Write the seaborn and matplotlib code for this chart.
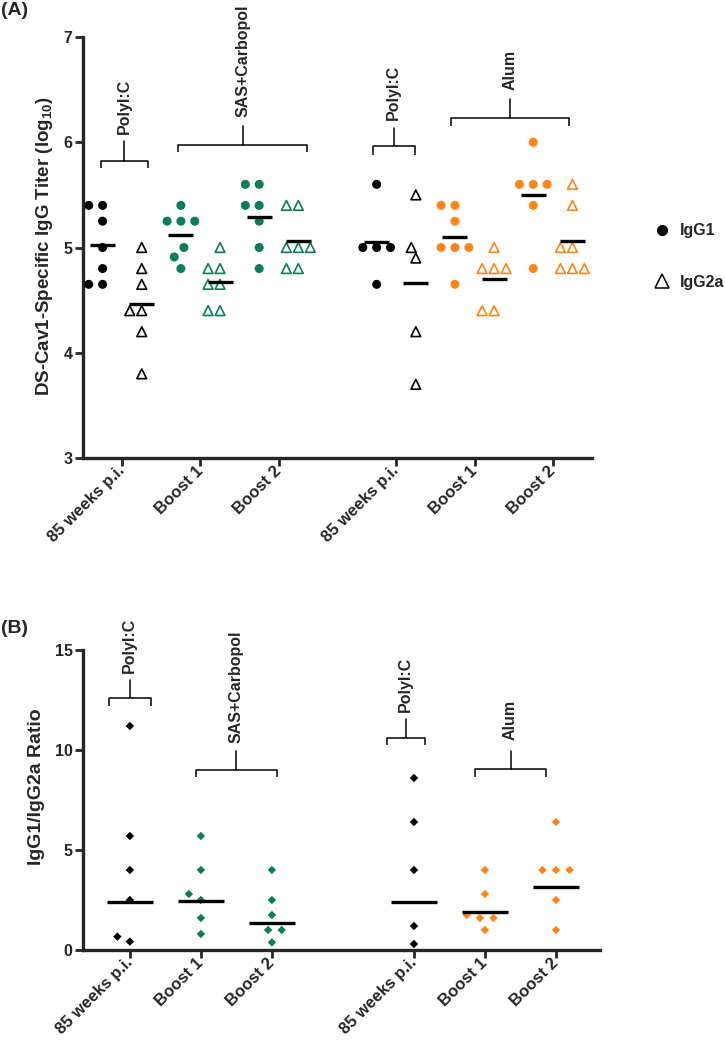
import numpy as np
import pandas as pd
import seaborn as sns
import matplotlib.pyplot as plt
from matplotlib.lines import Line2D

sns.set_theme(style="ticks")
plt.rcParams['font.family'] = ['Liberation Sans', 'DejaVu Sans']
plt.rcParams['font.weight'] = 'bold'
plt.rcParams['axes.labelweight'] = 'bold'
plt.rcParams['mathtext.fontset'] = 'custom'
plt.rcParams['mathtext.rm'] = 'Liberation Sans:bold'
plt.rcParams['mathtext.bf'] = 'Liberation Sans:bold'

# x categories (two adjuvant blocks of three time points)
timepoints = ["85 weeks p.i.", "Boost 1", "Boost 2", "85 weeks p.i.", "Boost 1", "Boost 2"]
group_colors = ["black", "#0b7d5c", "#0b7d5c", "black", "#ff8419", "#ff8419"]

# panel A: log10 titers per mouse
igg1_log = [
    [5.4, 5.4, 5.25, 5.0, 4.8, 4.65, 4.65],
    [5.4, 5.25, 5.25, 5.25, 5.0, 4.91, 4.8],
    [5.6, 5.6, 5.4, 5.4, 5.25, 5.0, 4.8],
    [5.6, 5.0, 5.0, 5.0, 4.65],
    [5.4, 5.4, 5.25, 5.0, 5.0, 5.0, 4.65],
    [6.0, 5.6, 5.6, 5.6, 5.4, 4.8],
]
igg2a_log = [
    [5.0, 4.8, 4.65, 4.4, 4.4, 4.2, 3.8],
    [5.0, 4.8, 4.8, 4.65, 4.65, 4.4, 4.4],
    [5.4, 5.4, 5.0, 5.0, 5.0, 4.8, 4.8],
    [5.5, 5.0, 4.9, 4.2, 3.7],
    [5.0, 4.8, 4.8, 4.8, 4.4, 4.4],
    [5.6, 5.4, 5.0, 5.0, 4.8, 4.8, 4.8],
]

# panel B: IgG1/IgG2a ratio per mouse
ratio = [
    [11.2, 5.7, 4.0, 2.5, 0.67, 0.42],
    [5.7, 4.0, 2.8, 2.5, 1.6, 0.8],
    [4.0, 2.5, 1.75, 1.0, 1.0, 0.38],
    [8.6, 6.4, 4.0, 1.2, 0.3],
    [4.0, 2.8, 1.75, 1.6, 1.6, 1.0],
    [6.4, 4.0, 4.0, 4.0, 2.5, 1.0],
]

# bracket annotations: (label, x0, x1, y, leg, stem, text_y)
brackets_a = [
    ("PolyI:C", -0.05, 1.15, 5.82, 0.06, 0.19, 6.08),
    ("SAS+Carbopol", 1.92, 5.23, 5.97, 0.06, 0.18, 6.24),
    ("PolyI:C", 6.9, 7.97, 5.96, 0.08, 0.18, 6.21),
    ("Alum", 8.9, 11.92, 6.23, 0.08, 0.18, 6.5),
]
brackets_b = [
    ("PolyI:C", -0.3, 0.3, 12.6, 0.4, 0.9, 13.85),
    ("SAS+Carbopol", 0.93, 2.07, 9.0, 0.35, 0.95, 10.35),
    ("PolyI:C", 3.62, 4.15, 10.6, 0.35, 0.95, 11.9),
    ("Alum", 4.86, 5.86, 9.05, 0.4, 0.9, 10.5),
]

# column layout: an empty slot separates the two adjuvant blocks
col_a = [2 * i + (1 if i >= 3 else 0) for i in range(len(timepoints))]
pos_b = [i + (1 if i >= 3 else 0) for i in range(len(timepoints))]

rows_a = []
for i in range(len(timepoints)):
    for v in igg1_log[i]:
        rows_a.append({'x': col_a[i], 'y': v, 'iso': 'IgG1', 'grp': i})
    for v in igg2a_log[i]:
        rows_a.append({'x': col_a[i] + 1, 'y': v, 'iso': 'IgG2a', 'grp': i})
df_a = pd.DataFrame(rows_a)

rows_b = []
for i in range(len(timepoints)):
    for v in ratio[i]:
        rows_b.append({'x': pos_b[i], 'y': v, 'grp': i})
df_b = pd.DataFrame(rows_b)

palette = {i: c for i, c in enumerate(group_colors)}

fig = plt.figure(figsize=(7.25, 10.41), dpi=100)
axA = fig.add_axes([83 / 725, 1 - 458 / 1041, (592 - 83) / 725, (458 - 37) / 1041])
axB = fig.add_axes([83 / 725, 1 - 950 / 1041, (600 - 83) / 725, 300 / 1041])


def style_axis(ax):
    sns.despine(ax=ax)
    for s in ['left', 'bottom']:
        ax.spines[s].set_linewidth(2.4)
    ax.tick_params(axis='both', width=2, length=5.5, direction='out', pad=2)
    ax.tick_params(axis='x', labelsize=12)
    ax.tick_params(axis='y', labelsize=11.5)
    ax.set_xlabel('')
    plt.setp(ax.get_xticklabels(), rotation=45, ha='right', va='center',
             rotation_mode='anchor', fontweight='bold')
    plt.setp(ax.get_yticklabels(), fontweight='bold')


def draw_bracket(ax, label, x0, x1, y, leg, stem, ty):
    xm = (x0 + x1) / 2
    ax.plot([x0, x0, x1, x1], [y - leg, y, y, y - leg], color='black', lw=1.1,
            clip_on=False, solid_capstyle='butt')
    ax.plot([xm, xm], [y, y + stem], color='black', lw=1.1, clip_on=False)
    ax.text(xm, ty, label, rotation=90, ha='center', va='bottom',
            fontsize=11.5, fontweight='bold')


# ---- Panel A ----
n0 = len(axA.collections)
sns.swarmplot(data=df_a[df_a['iso'] == 'IgG1'], x='x', y='y', hue='grp', palette=palette,
              native_scale=True, legend=False, size=6.5, ax=axA)
for coll in axA.collections[n0:]:
    coll.set_edgecolor('none')
    coll.set_linewidth(3)
n0 = len(axA.collections)
sns.swarmplot(data=df_a[df_a['iso'] == 'IgG2a'], x='x', y='y', hue='grp', palette=palette,
              native_scale=True, legend=False, size=7, marker='^', ax=axA)
for coll in axA.collections[n0:]:
    fc = coll.get_facecolors()
    coll.set_edgecolors(fc)
    coll.set_facecolors('white')
    coll.set_linewidth(1.2)

means_a = df_a.groupby('x')['y'].mean()
axA.hlines(means_a.values, means_a.index - 0.32, means_a.index + 0.32,
           color='black', lw=2.4, zorder=5)

axA.set_xlim(-0.5, 12.5)
axA.set_ylim(3, 7)
axA.set_yticks([3, 4, 5, 6, 7])
axA.set_xticks([c + 0.5 for c in col_a])
axA.set_xticklabels(timepoints)
axA.set_ylabel('DS-Cav1-Specific IgG Titer (log$_{10}$)', fontsize=13.5, fontweight='bold')
axA.yaxis.set_label_coords(-0.055, 0.504)
style_axis(axA)
for b in brackets_a:
    draw_bracket(axA, *b)

# ---- Panel B ----
n0 = len(axB.collections)
sns.swarmplot(data=df_b, x='x', y='y', hue='grp', palette=palette,
              native_scale=True, legend=False, size=4.3, marker='D', ax=axB)
for coll in axB.collections[n0:]:
    coll.set_edgecolor('none')
    coll.set_linewidth(5)

gmeans_b = df_b.groupby('x')['y'].apply(lambda v: np.exp(np.mean(np.log(v))))
axB.hlines(gmeans_b.values, gmeans_b.index - 0.32, gmeans_b.index + 0.32,
           color='black', lw=2.4, zorder=5)

axB.set_xlim(-0.66, 6.62)
axB.set_ylim(0, 15)
axB.set_yticks([0, 5, 10, 15])
axB.set_xticks(pos_b)
axB.set_xticklabels(timepoints)
axB.set_ylabel('IgG1/IgG2a Ratio', fontsize=14, fontweight='bold')
axB.yaxis.set_label_coords(-0.0735, 0.543)
style_axis(axB)
for b in brackets_b:
    draw_bracket(axB, *b)

# legend for isotypes
handles = [
    Line2D([], [], marker='o', ls='', color='black', markersize=7),
    Line2D([], [], marker='^', ls='', markerfacecolor='white', markeredgecolor='black',
           markeredgewidth=1.1, markersize=10),
]
fig.legend(handles, ['IgG1', 'IgG2a'], loc='center left', bbox_to_anchor=(0.882, 0.7535),
           frameon=False, prop={'weight': 'bold', 'size': 11.5}, labelspacing=2.3,
           handlelength=1.0, handletextpad=0.6)

fig.text(0.002, 0.998, '(A)', ha='left', va='top', fontsize=14, fontweight='bold')
fig.text(0.002, 1 - 620 / 1041, '(B)', ha='left', va='top', fontsize=14, fontweight='bold')

fig.savefig('out.png', dpi=100)
